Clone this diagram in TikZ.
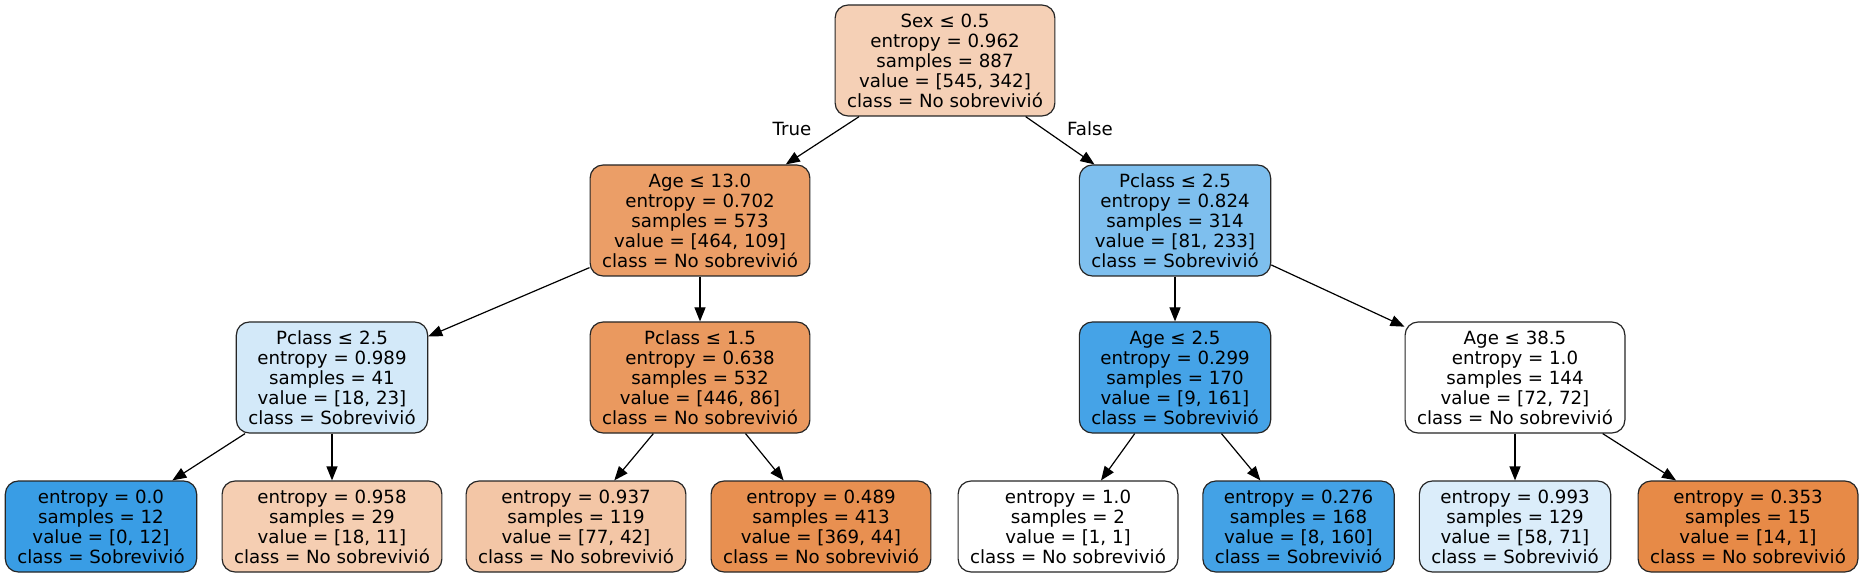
\documentclass[tikz,border=0pt]{standalone}
\usepackage{fontspec}
\setmainfont{DejaVu Sans}
\usetikzlibrary{arrows.meta}
\definecolor{orng}{RGB}{229,129,57}
\definecolor{blu}{RGB}{57,157,229}
\begin{document}
\begin{tikzpicture}[x=1pt,y=-1pt,
	box/.style={draw=black!85,line width=1.2pt,rounded corners=13pt,align=center,
		inner xsep=12pt,inner ysep=0pt,minimum height=111pt,font=\fontsize{18.2}{20}\selectfont},
	leaf/.style={box,minimum height=91pt},
	edge/.style={line width=1.2pt,-{Triangle[length=14pt,width=11pt]}},
	lbl/.style={font=\fontsize{18.2}{20}\selectfont}]
	\useasboundingbox (0,0) rectangle (1861,577);
	\def\ya{60.5} \def\yb{220.5} \def\yc{377.5} \def\yd{526.5}
	% internal nodes
	\node[box,fill=orng!37!white] (Sex) at (945,\ya) {Sex ≤ 0.5\\entropy = 0.962\\samples = 887\\value = [545, 342]\\class = No sobrevivió};
	\node[box,fill=orng!77!white] (Age1) at (700,\yb) {Age ≤ 13.0\\entropy = 0.702\\samples = 573\\value = [464, 109]\\class = No sobrevivió};
	\node[box,fill=blu!65!white] (Pc1) at (1175,\yb) {Pclass ≤ 2.5\\entropy = 0.824\\samples = 314\\value = [81, 233]\\class = Sobrevivió};
	\node[box,fill=blu!22!white] (Pc2) at (332,\yc) {Pclass ≤ 2.5\\entropy = 0.989\\samples = 41\\value = [18, 23]\\class = Sobrevivió};
	\node[box,fill=orng!81!white] (Pc3) at (700,\yc) {Pclass ≤ 1.5\\entropy = 0.638\\samples = 532\\value = [446, 86]\\class = No sobrevivió};
	\node[box,fill=blu!94!white] (Age2) at (1175,\yc) {Age ≤ 2.5\\entropy = 0.299\\samples = 170\\value = [9, 161]\\class = Sobrevivió};
	\node[box,fill=white] (Age3) at (1515,\yc) {Age ≤ 38.5\\entropy = 1.0\\samples = 144\\value = [72, 72]\\class = No sobrevivió};
	% leaves
	\node[leaf,fill=blu] (L1) at (101,\yd) {entropy = 0.0\\samples = 12\\value = [0, 12]\\class = Sobrevivió};
	\node[leaf,fill=orng!39!white] (L2) at (332,\yd) {entropy = 0.958\\samples = 29\\value = [18, 11]\\class = No sobrevivió};
	\node[leaf,fill=orng!45!white] (L3) at (576,\yd) {entropy = 0.937\\samples = 119\\value = [77, 42]\\class = No sobrevivió};
	\node[leaf,fill=orng!88!white] (L4) at (821,\yd) {entropy = 0.489\\samples = 413\\value = [369, 44]\\class = No sobrevivió};
	\node[leaf,fill=white] (L5) at (1068,\yd) {entropy = 1.0\\samples = 2\\value = [1, 1]\\class = No sobrevivió};
	\node[leaf,fill=blu!95!white] (L6) at (1298.5,\yd) {entropy = 0.276\\samples = 168\\value = [8, 160]\\class = Sobrevivió};
	\node[leaf,fill=blu!18!white] (L7) at (1515,\yd) {entropy = 0.993\\samples = 129\\value = [58, 71]\\class = Sobrevivió};
	\node[leaf,fill=orng!93!white] (L8) at (1748,\yd) {entropy = 0.353\\samples = 15\\value = [14, 1]\\class = No sobrevivió};
	% edges
	\foreach \a/\b in {Sex/Age1,Sex/Pc1,Age1/Pc2,Age1/Pc3,Pc1/Age2,Pc1/Age3,
		Pc2/L1,Pc2/L2,Pc3/L3,Pc3/L4,Age2/L5,Age2/L6,Age3/L7,Age3/L8}
		\draw[edge] (\a) -- (\b);
	\node[lbl] (T) at (792,129) {True};
	\node[lbl] (F) at (1090,129) {False};
\end{tikzpicture}
\end{document}
